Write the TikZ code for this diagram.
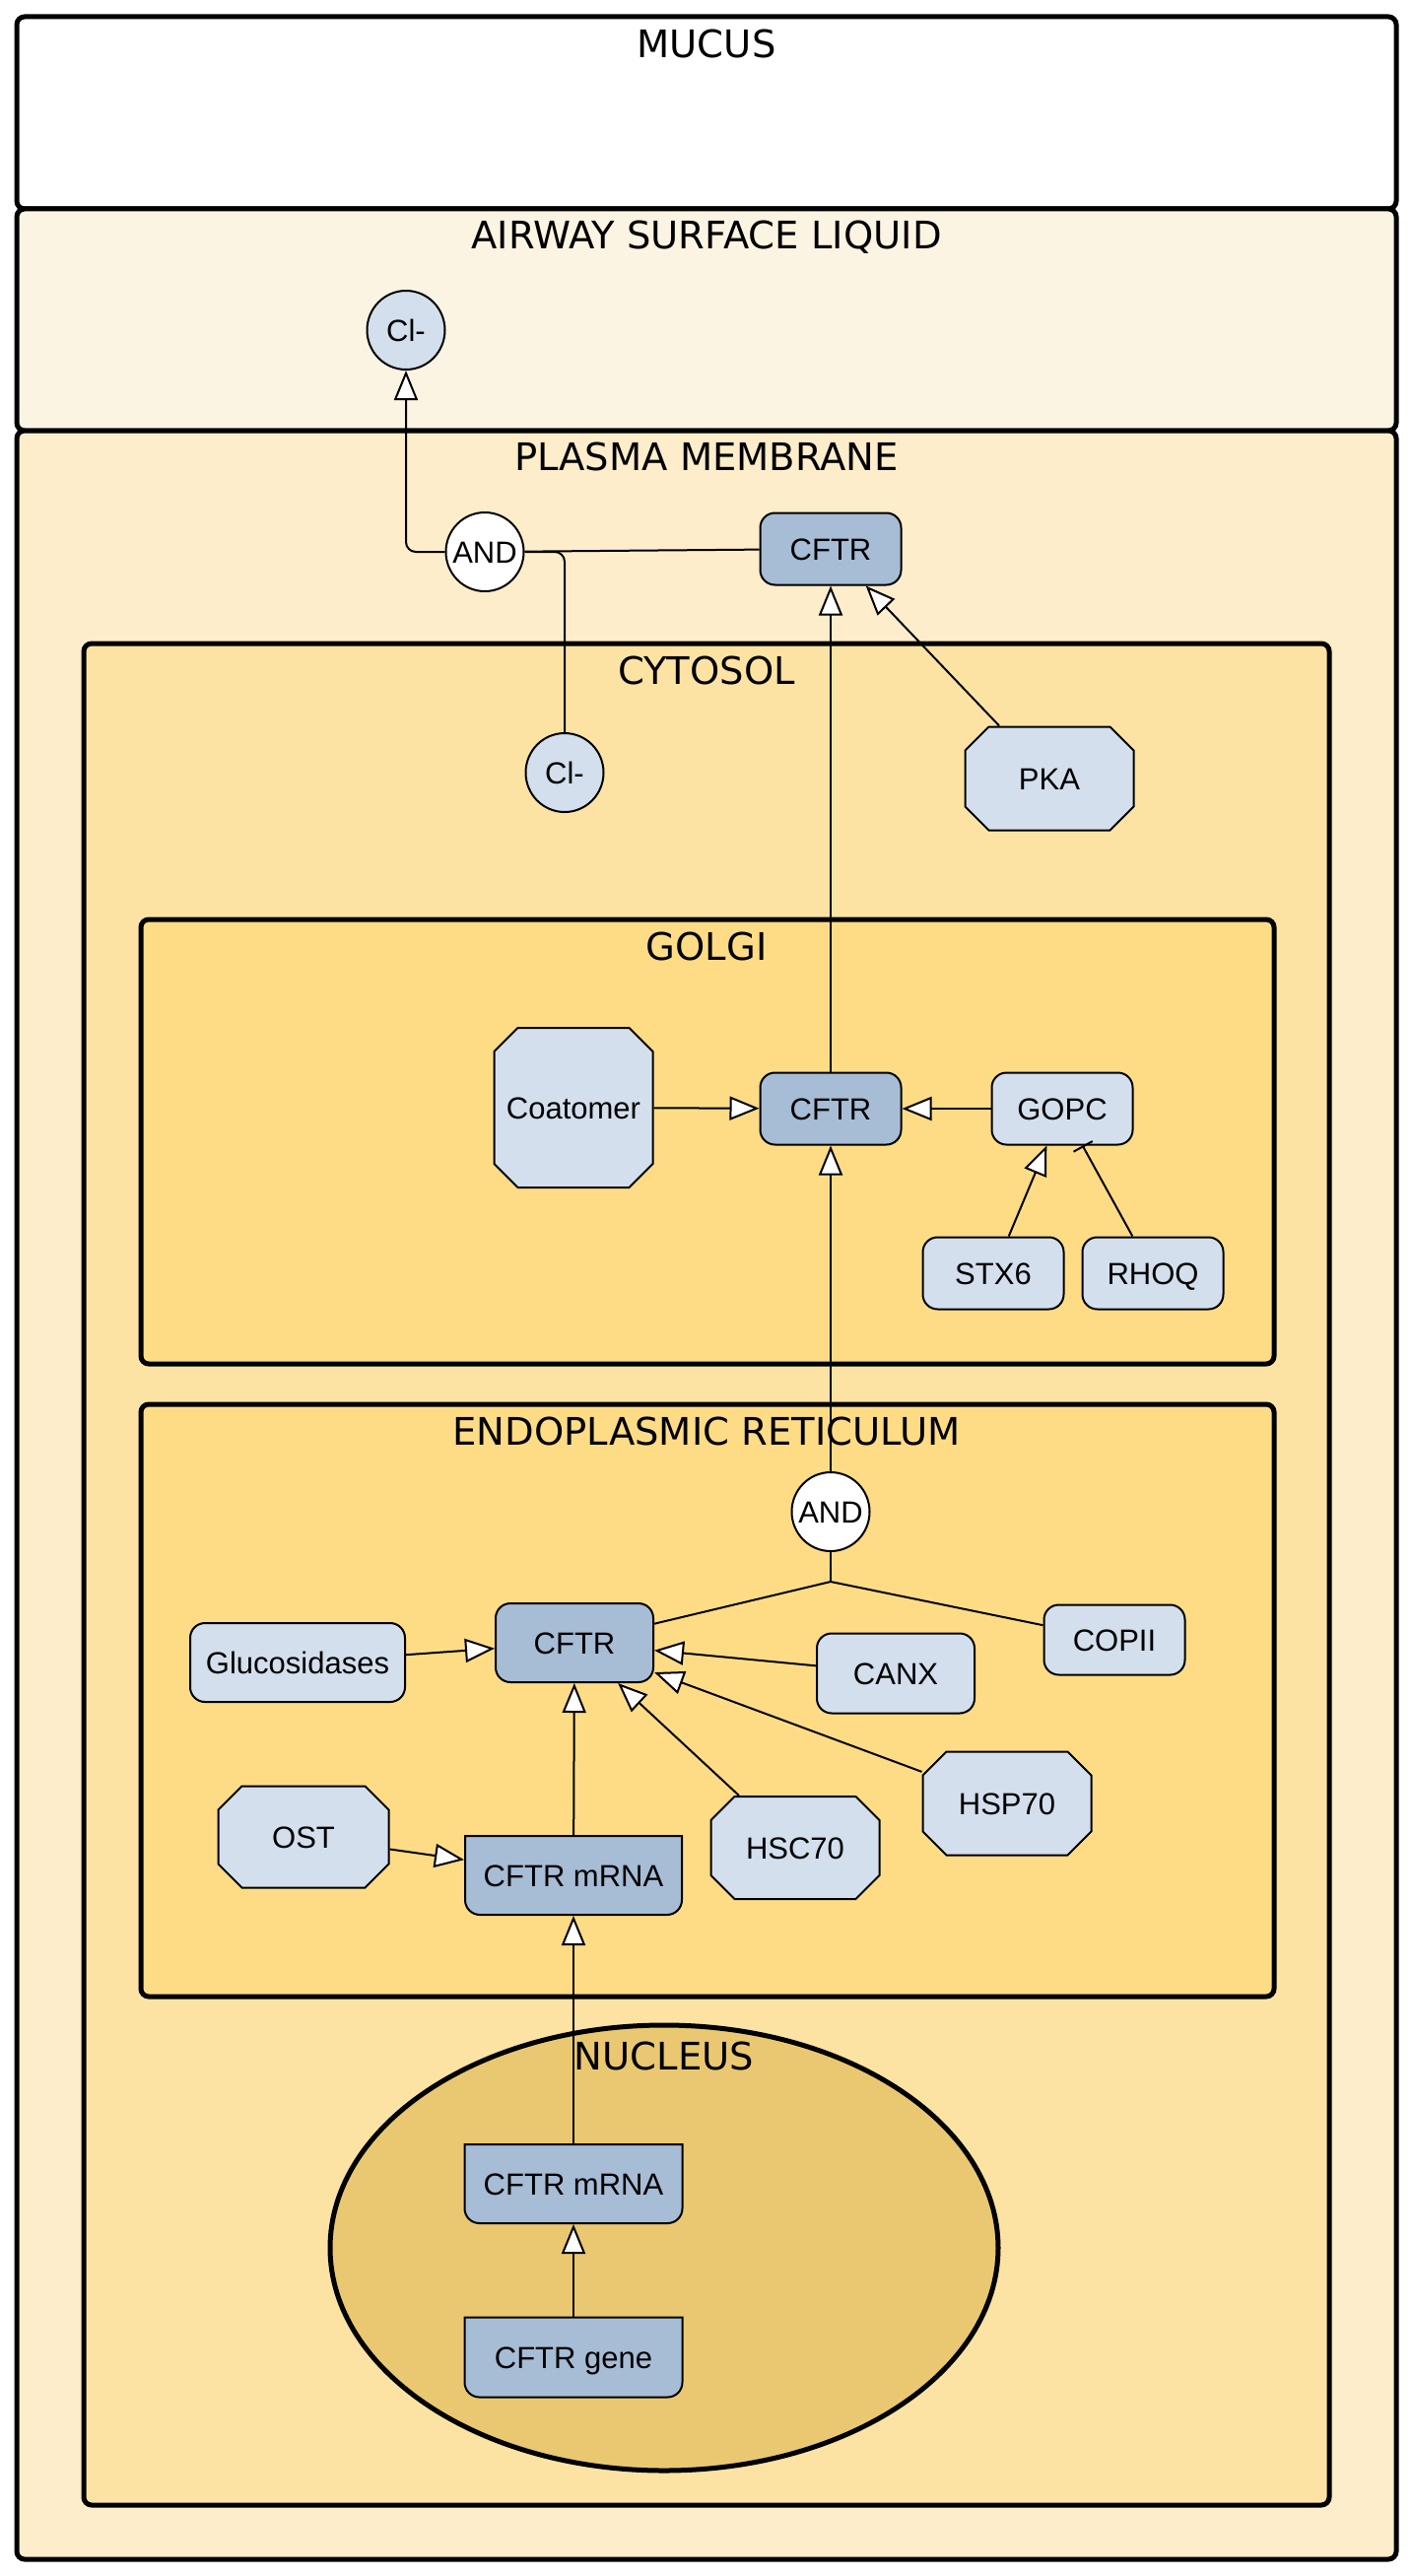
\documentclass[tikz,border=0pt]{standalone}
\usepackage{fontspec}
\setmainfont{Liberation Sans}
\newfontfamily\compfont{DejaVu Sans}
\usetikzlibrary{arrows.meta,shapes.geometric,calc}

\definecolor{ascol}{HTML}{FCF4E2}
\definecolor{pmcol}{HTML}{FEEDCB}
\definecolor{cytcol}{HTML}{FCE3A4}
\definecolor{orgcol}{HTML}{FEDC86}
\definecolor{nuccol}{HTML}{E9C871}
\definecolor{molcol}{HTML}{D3DFEC}
\definecolor{genecol}{HTML}{A7BCD5}

\tikzset{
  compartment/.style={draw=black, line width=5pt, rounded corners=8pt},
  complabel/.style={font=\compfont\fontsize{38.5}{38.5}\selectfont, anchor=base, inner sep=0pt},
  entity/.style={font=\fontsize{31}{31}\selectfont, line width=2pt, inner sep=0pt,
                 text height=22.2pt, text depth=0pt},
  protein/.style={entity, draw, fill=molcol, rounded corners=15pt, minimum width=143, minimum height=73},
  cftrbox/.style={protein, fill=genecol},
  ion/.style={entity, ellipse, draw, fill=molcol, minimum width=79, minimum height=80},
  andgate/.style={ion, fill=white},
  octshape/.style={draw, fill=molcol, line width=2pt},
  nashape/.style={draw, fill=genecol, line width=2pt},
  link/.style={line width=2pt},
  act/.style={link, -{Triangle[length=30pt, width=24pt, fill=white]}},
  inh/.style={link, -{Bar[width=22pt]}},
}

% octagonal (complex) glyph: name, cx, cy, w, h, label
\newcommand{\octnode}[6]{%
  \draw[octshape] ({#2-#4/2+24},{#3-#5/2}) -- ({#2+#4/2-24},{#3-#5/2})
    -- ({#2+#4/2},{#3-#5/2+24}) -- ({#2+#4/2},{#3+#5/2-24})
    -- ({#2+#4/2-24},{#3+#5/2}) -- ({#2-#4/2+24},{#3+#5/2})
    -- ({#2-#4/2},{#3+#5/2-24}) -- ({#2-#4/2},{#3-#5/2+24}) -- cycle;
  \node[entity, minimum width=#4, minimum height=#5] (#1) at (#2,#3) {#6};
}
% nucleic acid glyph, rounded only at the bottom: name, cx, cy, w, h, label
\newcommand{\nanode}[6]{%
  \draw[nashape] ({#2-#4/2},{#3-#5/2}) -- ({#2+#4/2},{#3-#5/2})
    -- ({#2+#4/2},{#3+#5/2-15})
    .. controls ({#2+#4/2},{#3+#5/2-6.7}) and ({#2+#4/2-6.7},{#3+#5/2}) .. ({#2+#4/2-15},{#3+#5/2})
    -- ({#2-#4/2+15},{#3+#5/2})
    .. controls ({#2-#4/2+6.7},{#3+#5/2}) and ({#2-#4/2},{#3+#5/2-6.7}) .. ({#2-#4/2},{#3+#5/2-15})
    -- cycle;
  \node[entity, minimum width=#4, minimum height=#5] (#1) at (#2,#3) {#6};
}

\begin{document}
\begin{tikzpicture}[x=1pt, y=-1pt]
  \fill[white] (0,0) rectangle (1434,2614);
  \useasboundingbox (0,0) rectangle (1434,2614);

  % compartments
  \draw[compartment, fill=white]  (17,17)   rectangle (1417,212);
  \draw[compartment, fill=ascol]  (17,212)  rectangle (1417,437);
  \draw[compartment, fill=pmcol]  (17,437)  rectangle (1417,2597);
  \draw[compartment, fill=cytcol] (85,653)  rectangle (1349,2542);
  \draw[compartment, fill=orgcol] (143,933) rectangle (1293,1384);
  \draw[compartment, fill=orgcol] (143,1425) rectangle (1293,2026);
  \draw[line width=5pt, fill=nuccol] (674,2281) ellipse [x radius=339, y radius=226];

  \node[complabel] (lmucus) at (717,59)   {MUCUS};
  \node[complabel] (lasl)   at (717,253)  {AIRWAY SURFACE LIQUID};
  \node[complabel] (lpm)    at (717,477)  {PLASMA MEMBRANE};
  \node[complabel] (lcyt)   at (717,694)  {CYTOSOL};
  \node[complabel] (lgolgi) at (717,974)  {GOLGI};
  \node[complabel] (ler)    at (717,1466) {ENDOPLASMIC RETICULUM};
  \node[complabel] (lnuc)   at (674,2100) {NUCLEUS};

  % entities
  \node[ion] (clA) at (412,335) {Cl-};
  \node[andgate] (and1) at (492,560) {\makebox[0pt]{AND}};
  \node[cftrbox] (cftrPM) at (843,557) {CFTR};
  \node[ion] (clC) at (573,784) {Cl-};
  \octnode{pka}{1065}{790}{171}{105}{PKA}

  \octnode{coat}{582}{1124}{161}{162}{Coatomer}
  \node[cftrbox] (cftrG) at (843,1125) {CFTR};
  \node[protein] (gopc) at (1078,1125) {GOPC};
  \node[protein] (stx) at (1008,1292) {STX6};
  \node[protein] (rhoq) at (1170,1292) {RHOQ};

  \node[andgate] (and2) at (843,1534) {\makebox[0pt]{AND}};
  \coordinate (join) at (843,1605);
  \node[cftrbox, minimum width=160, minimum height=80] (cftrER) at (583,1667) {CFTR};
  \node[protein, minimum width=218, minimum height=80] (gluc) at (302,1687) {Glucosidases};
  \node[protein, minimum width=160, minimum height=81] (canx) at (909,1698) {CANX};
  \node[protein, minimum height=71] (copii) at (1131,1664) {COPII};
  \octnode{ost}{308}{1864}{173}{103}{OST}
  \nanode{mrnaER}{582}{1903}{220}{80}{CFTR mRNA}
  \octnode{hsc}{807}{1875}{171}{104}{HSC70}
  \octnode{hsp}{1022}{1830}{171}{105}{HSP70}

  \nanode{mrnaN}{582}{2216}{221}{80}{CFTR mRNA}
  \nanode{gene}{582}{2392}{221}{81}{CFTR gene}

  % interactions
  \draw[link] (and1) -- (cftrPM);
  \draw[act, rounded corners=10pt] (and1.west) -| (clA.south);
  \draw[link, rounded corners=10pt] (clC.north) |- (and1.east);
  \draw[act] (cftrG) -- (cftrPM);
  \draw[act] (pka) -- (cftrPM);

  \draw[act] (coat) -- (cftrG);
  \draw[act] (gopc) -- (cftrG);
  \draw[act] (stx) -- (gopc);
  \draw[inh] (rhoq) -- (gopc);
  \draw[act] (and2) -- (cftrG);

  \draw[link] (and2) -- (join);
  \draw[link] (join) -- (cftrER);
  \draw[link] (join) -- (copii);
  \draw[act] (gluc) -- (cftrER);
  \draw[act] (canx) -- (cftrER);
  \draw[act] (hsc) -- (cftrER);
  \draw[act] (hsp) -- (cftrER);
  \draw[act] (mrnaER) -- (cftrER);
  \draw[act] (ost) -- (mrnaER);

  \draw[act] (mrnaN) -- (mrnaER);
  \draw[act] (gene) -- (mrnaN);
\end{tikzpicture}
\end{document}
